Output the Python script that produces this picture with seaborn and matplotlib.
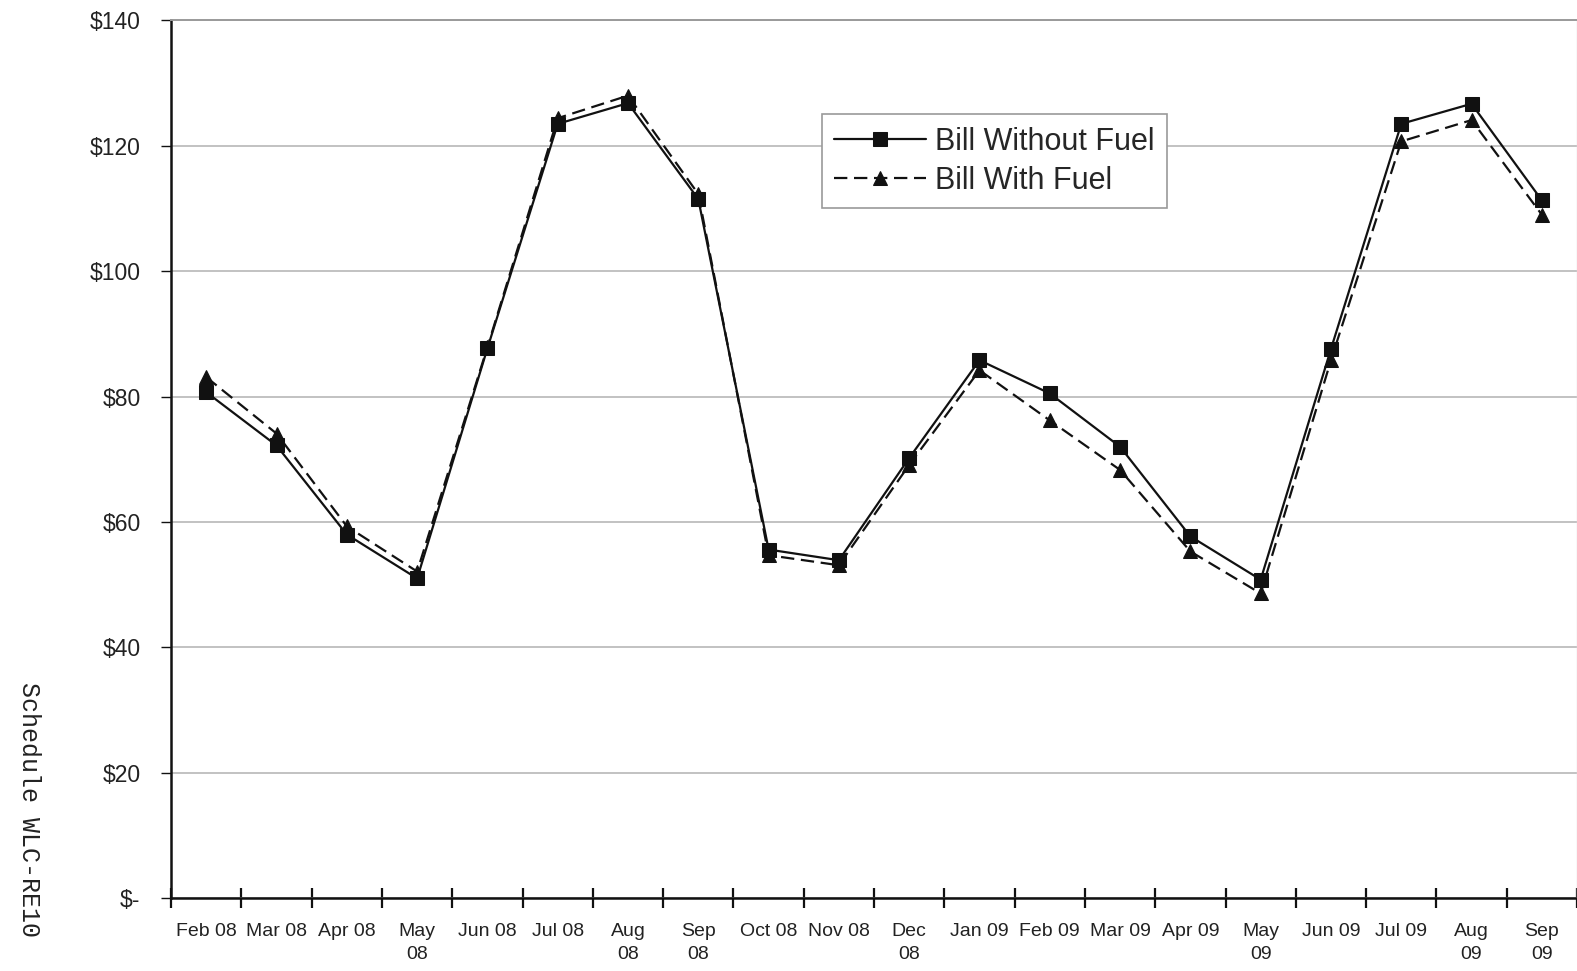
import matplotlib
matplotlib.use("Agg")
import matplotlib.pyplot as plt
import seaborn as sns
import pandas as pd

months = ["Feb 08", "Mar 08", "Apr 08", "May\n08", "Jun 08", "Jul 08", "Aug\n08",
          "Sep\n08", "Oct 08", "Nov 08", "Dec\n08", "Jan 09", "Feb 09", "Mar 09",
          "Apr 09", "May\n09", "Jun 09", "Jul 09", "Aug\n09", "Sep\n09"]
bill_without_fuel = [80.7, 72.2, 58.0, 51.0, 87.7, 123.5, 126.8, 111.5, 55.6, 53.9,
                     70.2, 85.8, 80.5, 72.0, 57.7, 50.8, 87.6, 123.5, 126.7, 111.3]
bill_with_fuel = [83.1, 74.1, 59.3, 52.1, 87.9, 124.4, 128.0, 112.3, 54.7, 53.1,
                  69.1, 84.2, 76.2, 68.3, 55.3, 48.6, 85.8, 120.7, 124.1, 109.0]
series_names = ["Bill Without Fuel", "Bill With Fuel"]
y_ticks = [0, 20, 40, 60, 80, 100, 120, 140]
y_tick_labels = ["$-", "$20", "$40", "$60", "$80", "$100", "$120", "$140"]

sns.set_theme(style="white")
plt.rcParams["font.family"] = ["Liberation Sans", "DejaVu Sans"]

idx = list(range(len(months)))
df = pd.DataFrame({
    "pos": idx * 2,
    "value": bill_without_fuel + bill_with_fuel,
    "series": [series_names[0]] * len(idx) + [series_names[1]] * len(idx),
})

fig = plt.figure(figsize=(15.77, 9.71), dpi=100)
ax = fig.add_axes([0.1085, 0.075, 0.8915, 0.904])

sns.lineplot(
    data=df, x="pos", y="value", hue="series", style="series",
    palette={series_names[0]: "#111111", series_names[1]: "#111111"},
    dashes={series_names[0]: "", series_names[1]: (6, 3)},
    markers={series_names[0]: "s", series_names[1]: "^"},
    markersize=10.5, linewidth=1.6, markeredgecolor="#111111", ax=ax,
)

ax.set_xlim(-0.5, len(months) - 0.5)
ax.set_ylim(0, 140)
ax.set_xlabel("")
ax.set_ylabel("")

# category labels at centres, tick marks at category boundaries
ax.set_xticks(idx)
ax.set_xticklabels(months, fontsize=14, color="#222222", linespacing=1.45)
ax.set_xticks([i - 0.5 for i in range(len(months) + 1)], minor=True)
ax.tick_params(axis="x", which="major", length=0, pad=18)
ax.tick_params(axis="x", which="minor", length=15, width=1.6, direction="inout",
               color="#111111", bottom=True)

ax.set_yticks(y_ticks)
ax.set_yticklabels(y_tick_labels, fontsize=16.5, color="#222222")
ax.tick_params(axis="y", which="major", length=7, width=1, direction="out",
               color="#111111", left=True, pad=15)

ax.yaxis.grid(True, color="#b8b8b8", linewidth=1.2)
ax.xaxis.grid(False)

for side in ["left", "bottom"]:
    ax.spines[side].set_color("#111111")
    ax.spines[side].set_linewidth(1.8)
ax.spines["top"].set_color("#9a9a9a")
ax.spines["top"].set_linewidth(1.4)
ax.spines["right"].set_color("#e0e0e0")
ax.spines["right"].set_linewidth(1.0)

leg = ax.legend(
    loc="upper left", bbox_to_anchor=(0.463, 0.893), borderaxespad=0, fontsize=22,
    frameon=True, fancybox=False, edgecolor="#9a9a9a", framealpha=1,
    handlelength=3.0, handletextpad=0.3, borderpad=0.4, labelspacing=0.3,
)
leg.get_frame().set_linewidth(1.2)

fig.text(0.011, 0.298, "Schedule WLC-RE10", rotation=-90, va="top", ha="left",
         fontsize=18, family=["Liberation Mono", "DejaVu Sans Mono"], color="#222222")

fig.savefig("out.png", dpi=100, facecolor="white")
